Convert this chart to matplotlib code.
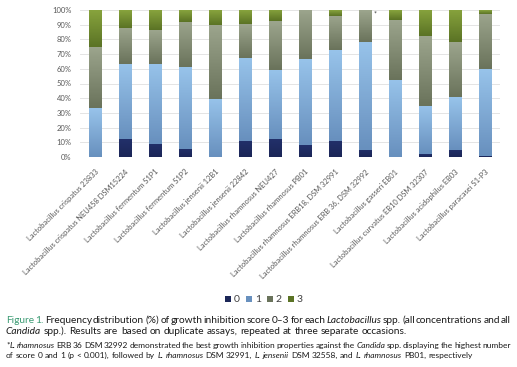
import matplotlib
matplotlib.use('Agg')
import matplotlib.pyplot as plt
import numpy as np
from matplotlib.colors import LinearSegmentedColormap
from matplotlib.patches import Patch
from matplotlib.ticker import PercentFormatter

plt.rcParams['font.family'] = ['Lato', 'DejaVu Sans']

# strains and frequency of each score (%)
strains = ['Lactobacillus crispatus 23833', 'Lactobacillus crispatus NEU458 DSM15224',
           'Lactobacillus fermentum S1P1', 'Lactobacillus fermentum S1P2',
           'Lactobacillus jensenii 12B1', 'Lactobacillus jensenii 22842',
           'Lactobacillus rhamnosus NEU427', 'Lactobacillus rhamnosus PB01',
           'Lactobacillus rhamnosus ERB18, DSM 32991', 'Lactobacillus rhamnosus ERB 36, DSM 32992',
           'Lactobacillus gasseri EB01', 'Lactobacillus curvatus EB10 DSM 32307',
           'Lactobacillus acidophilus EB03', 'Lactobacillus paracasei S1-P3']
score0 = [0, 12, 9, 5.5, 0, 11, 12, 8, 11, 5, 0, 2, 5, 1]
score1 = [33, 51.5, 54.5, 55.5, 39.5, 56.5, 47.5, 58.5, 61.5, 73.5, 52.5, 33, 36, 59]
score2 = [42, 24.5, 23, 31, 50.5, 23, 33, 33.5, 23.5, 21.5, 41, 47, 37, 37.5]
score3 = [25, 12, 13.5, 8, 10, 9.5, 7.5, 0, 4, 0, 6.5, 18, 22, 2.5]
scores = ['0', '1', '2', '3']

# (top, bottom) colours of each segment gradient
grads = [('#22306a', '#1b2657'), ('#97c3ea', '#6890be'),
         ('#9ca58d', '#6a735b'), ('#87a33d', '#5b7325')]

fig = plt.figure(figsize=(5.17, 3.67), dpi=100)
ax = fig.add_axes([80 / 517, 1 - 157 / 367, 420 / 517, 147 / 367])

x = np.arange(len(strains))
w = 0.43
bottom = np.zeros(len(strains))
for vals, (ctop, cbot) in zip([score0, score1, score2, score3], grads):
    vals = np.array(vals) / 100
    cmap = LinearSegmentedColormap.from_list('g', [cbot, ctop])
    for xi, b, v in zip(x, bottom, vals):
        if v <= 0:
            continue
        ax.imshow(np.linspace(0, 1, 50).reshape(-1, 1), cmap=cmap, origin='lower',
                  extent=[xi - w / 2, xi + w / 2, b, b + v], aspect='auto', zorder=2)
    bottom += vals

ax.set_xlim(-0.5, len(strains) - 0.5)
ax.set_ylim(0, 1)
ax.set_yticks(np.arange(0, 1.01, 0.1))
ax.yaxis.set_major_formatter(PercentFormatter(1.0, decimals=0))
ax.grid(axis='y', color='#e4e4e4', lw=0.7, zorder=0)
ax.set_axisbelow(True)
for s in ax.spines.values():
    s.set_visible(False)
ax.tick_params(length=0, labelsize=5.5, labelcolor='#595959')
ax.tick_params(axis='y', pad=6)
ax.tick_params(axis='x', pad=8)
ax.set_xticks(x)
ax.set_xticklabels(strains, rotation=45, ha='right', rotation_mode='anchor', fontsize=5.4)
ax.text(9.33, 0.975, '*', fontsize=5, color='#333333', ha='center', va='center')

handles = [Patch(facecolor=g[1]) for g in grads]
fig.legend(handles, scores, loc='center', bbox_to_anchor=(264 / 517, 1 - 300 / 367),
           ncol=4, frameon=False, fontsize=7.5, handlelength=0.6, handleheight=0.6,
           handletextpad=0.25, columnspacing=0.6, labelcolor='#404040')

renderer = fig.canvas.get_renderer()


def rich_line(yp, segs, size, justify):
    # segs: (text, italic, colour); words placed one by one
    words = []
    prev_space = True
    for txt, it, col in segs:
        parts = txt.split(' ')
        for i, p in enumerate(parts):
            if p == '':
                continue
            glue = i == 0 and not prev_space and len(words) > 0
            words.append([p, it, col, glue])
        prev_space = txt.endswith(' ')
    x0, x1 = 6 / 517, 511 / 517
    arts = []
    for p, it, col, glue in words:
        t = fig.text(0, 1 - yp / 367, p, fontsize=size, style='italic' if it else 'normal',
                     color=col, va='baseline')
        arts.append(t)
    widths = [a.get_window_extent(renderer).width / fig.bbox.width for a in arts]
    sp = fig.text(0, 0, 'a a', fontsize=size)
    sp2 = fig.text(0, 0, 'aa', fontsize=size)
    space = (sp.get_window_extent(renderer).width - sp2.get_window_extent(renderer).width) / fig.bbox.width
    sp.remove()
    sp2.remove()
    ngaps = sum(1 for wd in words[1:] if not wd[3])
    if justify and ngaps:
        space = (x1 - x0 - sum(widths)) / ngaps
    xp = x0
    for i, (a, wd) in enumerate(zip(arts, words)):
        if i > 0 and not wd[3]:
            xp += space
        a.set_x(xp)
        xp += widths[i]


black = '#1a1a1a'
teal = '#3a9a72'
rich_line(323, [('Figure 1.', False, teal),
                (' Frequency distribution (%) of growth inhibition score 0\u20133 for each ', False, black),
                ('Lactobacillus', True, black),
                (' spp. (all concentrations and all', False, black)], 7.3, True)
rich_line(334, [('Candida', True, black),
                (' spp.). Results are based on duplicate assays, repeated at three separate occasions.', False, black)],
          7.3, False)
rich_line(348, [('*', False, black), ('L. rhamnosus', True, black),
                (' ERB 36 DSM 32992 demonstrated the best growth inhibition properties against the ', False, black),
                ('Candida', True, black),
                (' spp. displaying the highest number', False, black)], 6.0, True)
rich_line(358, [('of score 0 and 1 (p < 0.001), followed by ', False, black),
                ('L. rhamnosus', True, black), (' DSM 32991, ', False, black),
                ('L. jensenii', True, black), (' DSM 32558, and ', False, black),
                ('L. rhamnosus', True, black), (' PB01, respectively', False, black)], 6.0, False)

fig.savefig('out.png', dpi=100)
